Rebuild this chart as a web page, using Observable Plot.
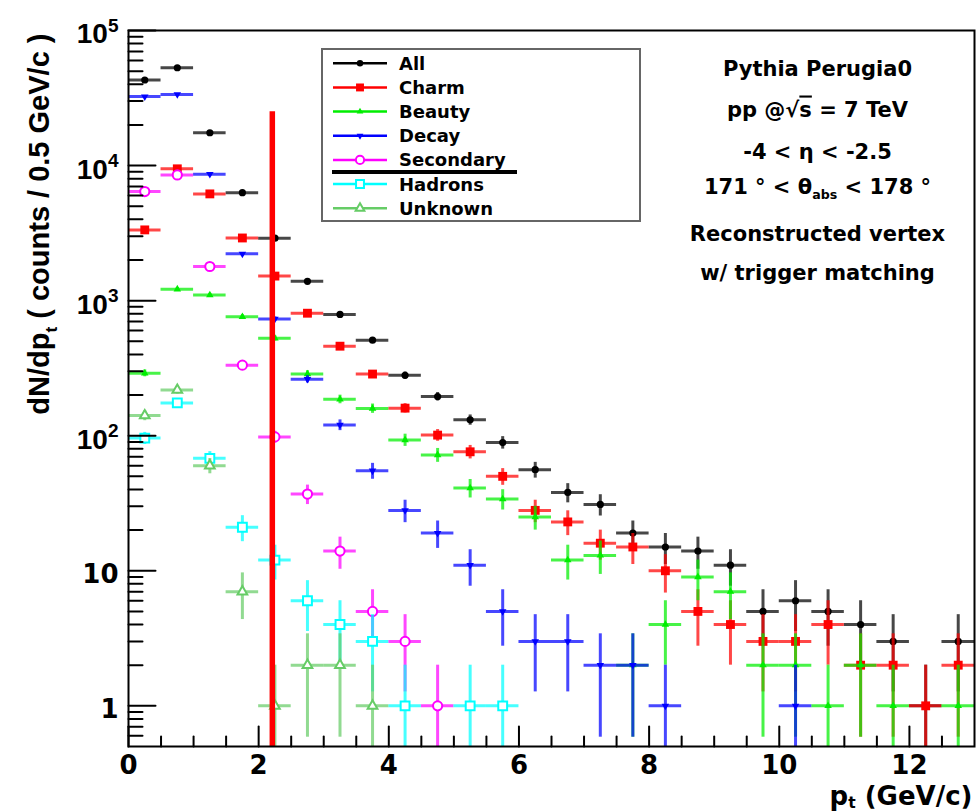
<!DOCTYPE html>
<html>
<head>
<meta charset="utf-8">
<script src="https://cdn.jsdelivr.net/npm/d3@7"></script>
<script src="https://cdn.jsdelivr.net/npm/@observablehq/plot@0.6"></script>
<style>
  body { margin: 0; background: #fff; }
  svg { display: block; }
</style>
</head>
<body>
<div id="chart"></div>
<script>
// ---------- data ----------
const binCenters = [0.25, 0.75, 1.25, 1.75, 2.25, 2.75, 3.25, 3.75, 4.25, 4.75, 5.25, 5.75, 6.25,
                    6.75, 7.25, 7.75, 8.25, 8.75, 9.25, 9.75, 10.25, 10.75, 11.25, 11.75, 12.25, 12.75];
const binHalfWidth = 0.25;
const seriesNames = ["All", "Charm", "Beauty", "Decay", "Secondary", "Hadrons", "Unknown"];

const allCounts       = [43000, 53000, 17500, 6300, 2900, 1390, 790, 510, 280, 195, 131, 89, 56, 38, 31, 19, 15, 14, 11, 5, 6, 5, 4, 3, 1, 3];
const charmCounts     = [3340, 9460, 6170, 2910, 1520, 807, 460, 286, 160, 101, 76, 50, 28, 23, 16, 15, 10, 5, 4, 3, 3, 4, 2, 2, 1, 2];
const beautyCounts    = [290, 1215, 1100, 760, 526, 286, 186, 159, 93, 72, 41, 34, 25, 12, 13, 2, 4, 9, 7, 2, 2, 1, 2, 1, null, 1];
const decayCounts     = [32400, 33600, 8630, 2220, 731, 262, 120, 55, 28, 19, 11, 5, 3, 3, 2, 2, 1, null, null, null, 1, null, null, null, null, null];
const secondaryCounts = [6420, 8520, 1790, 333, 98, 37, 14, 5, 3, 1, null, null, null, null, null, null, null, null, null, null, null, null, null, null, null, null];
const hadronCounts    = [96, 175, 68, 21, 12, 6, 4, 3, 1, null, 1, 1, null, null, null, null, null, null, null, null, null, null, null, null, null, null];
const unknownCounts   = [141, 218, 60, 7, 1, 2, 2, 1, null, null, null, null, null, null, null, null, null, null, null, null, null, null, null, null, null, null];

const cutPt = 2.21;        // red vertical cut line (GeV/c)
const cutTop = 25000;      // its top, in counts

const xTicks = [0, 2, 4, 6, 8, 10, 12];
const yTicks = [1, 10, 100, 1000, 10000, 100000];
const yTickLabels = ["1", "10", "10^{2}", "10^{3}", "10^{4}", "10^{5}"];

const infoLines = ["Pythia Perugia0", "pp @√‾{s} = 7 TeV", "-4 < η < -2.5",
                   "171 ° < θ_{abs} < 178 °", "Reconstructed vertex", "w/ trigger matching"];
const xTitle = "p_{t} (GeV/c)";
const yTitle = "dN/dp_{t} ( counts / 0.5 GeV/c )";

// ---------- styles ----------
const sqrt3 = Math.sqrt(3);
const invTriangle = {
  draw(context, size) {
    const y = -Math.sqrt(size / (sqrt3 * 3));
    context.moveTo(0, -y * 2);
    context.lineTo(-sqrt3 * y, y);
    context.lineTo(sqrt3 * y, y);
    context.closePath();
  }
};
const seriesStyle = {
  All:       {color: "#000000", symbol: d3.symbolCircle,   r: 3.6, open: false},
  Charm:     {color: "#ff0000", symbol: d3.symbolSquare,   r: 5.0, open: false},
  Beauty:    {color: "#00ee00", symbol: d3.symbolTriangle, r: 2.8, open: false},
  Decay:     {color: "#0000ff", symbol: invTriangle,       r: 2.8, open: false},
  Secondary: {color: "#ff00ff", symbol: d3.symbolCircle,   r: 4.6, open: true},
  Hadrons:   {color: "#00ffff", symbol: d3.symbolSquare,   r: 5.0, open: true},
  Unknown:   {color: "#66cc66", symbol: d3.symbolTriangle, r: 3.6, open: true}
};
const seriesCounts = [allCounts, charmCounts, beautyCounts, decayCounts, secondaryCounts, hadronCounts, unknownCounts];

const rows = [];
seriesNames.forEach((name, si) => {
  seriesCounts[si].forEach((v, i) => {
    if (v != null) rows.push({series: name, x: binCenters[i], y: v});
  });
});

// tick positions
const xMinorTicks = [];
for (let v = 0.5; v < 13; v += 0.5) if (v % 2 !== 0) xMinorTicks.push(v);
const yMinorTicks = [0.6, 0.7, 0.8, 0.9];
for (let k = 0; k < 5; k++) for (let m = 2; m <= 9; m++) yMinorTicks.push(m * Math.pow(10, k));

const yMin = 0.5;
const tickShape = {draw(context, l) { context.moveTo(0, 0); context.lineTo(0, -l); }};

const seriesMarks = seriesNames.flatMap(name => {
  const s = seriesStyle[name];
  const data = rows.filter(d => d.series === name);
  return [
    Plot.ruleX(data, {x: "x", y1: d => Math.max(yMin, d.y - Math.sqrt(d.y)), y2: d => d.y + Math.sqrt(d.y),
                      stroke: s.color, strokeWidth: 3, strokeOpacity: 0.72, clip: true}),
    Plot.ruleY(data, {y: "y", x1: d => d.x - binHalfWidth, x2: d => d.x + binHalfWidth,
                      stroke: s.color, strokeWidth: 3, strokeOpacity: 0.72, clip: true}),
    Plot.dot(data, {x: "x", y: "y", symbol: () => s.symbol, r: s.r,
                    fill: s.open ? "white" : s.color, stroke: s.open ? s.color : "none",
                    strokeWidth: s.open ? 2 : 0, clip: true})
  ];
});

const note = (text, dx, dy, o = {}) => Plot.text([text], {frameAnchor: "top-left", dx, dy, text: d => d, lineAnchor: "bottom", ...o});
const infoBaselines = [45, 86, 128, 163, 210, 249];

const chart = Plot.plot({
  width: 979,
  height: 812,
  marginTop: 30,
  marginLeft: 128,
  marginRight: 5,
  marginBottom: 66,
  style: {fontFamily: "'Liberation Sans', Arial, sans-serif", fontWeight: "bold", background: "white", color: "black"},
  x: {domain: [0, 13]},
  y: {type: "log", domain: [yMin, 1e5]},
  marks: [
    ...seriesMarks,
    Plot.ruleX([cutPt], {x: d => d, y1: yMin, y2: cutTop, stroke: "#ff0000", strokeWidth: 5.5}),
    Plot.vector(yTicks, {y: d => d, frameAnchor: "left", length: 27, rotate: 90, anchor: "start", shape: tickShape, stroke: "black", strokeWidth: 2}),
    Plot.vector(yMinorTicks, {y: d => d, frameAnchor: "left", length: 14, rotate: 90, anchor: "start", shape: tickShape, stroke: "black", strokeWidth: 2}),
    Plot.vector(xTicks, {x: d => d, frameAnchor: "bottom", length: 20, rotate: 0, anchor: "start", shape: tickShape, stroke: "black", strokeWidth: 2}),
    Plot.vector(xMinorTicks, {x: d => d, frameAnchor: "bottom", length: 10, rotate: 0, anchor: "start", shape: tickShape, stroke: "black", strokeWidth: 2}),
    Plot.axisX({ticks: xTicks, tickSize: 0, tickPadding: 9, label: null, fontSize: 26, fontFamily: "'DejaVu Sans', sans-serif", fontWeight: "bold"}),
    Plot.axisY({ticks: yTicks, tickSize: 0, tickPadding: 10, label: null, dy: 4, fontSize: 28, fontWeight: "bold",
                tickFormat: d => yTickLabels[yTicks.indexOf(d)]}),
    Plot.frame({stroke: "black", strokeWidth: 2}),
    ...infoLines.map((t, i) => note(t, 689, infoBaselines[i], {fontSize: 21, fontFamily: "'DejaVu Sans', sans-serif", textAnchor: "middle"})),
    note(xTitle, 844, 774, {fontSize: 26, fontFamily: "'DejaVu Sans', sans-serif", textAnchor: "end"}),
    note(yTitle, -80, 3, {fontSize: 29, rotate: -90, textAnchor: "end"})
  ]
});

document.getElementById("chart").append(chart);

// rich text: _{sub}, ^{sup}, ‾{overline}
function richText(el, subShift = 0.28) {
  const s = el.textContent;
  if (!/[_^‾]\{/.test(s)) return;
  const base = parseFloat(getComputedStyle(el).fontSize) || 20;
  const parts = s.split(/([_^‾]\{[^}]*\})/).filter(p => p !== "");
  el.textContent = "";
  let shift = 0;
  for (const p of parts) {
    const t = document.createElementNS("http://www.w3.org/2000/svg", "tspan");
    let target = 0, txt = p, size = null, deco = null;
    if (p.length > 2 && p[1] === "{" && "_^‾".includes(p[0])) {
      txt = p.slice(2, -1);
      if (p[0] === "_") { target = subShift * base; size = 0.6 * base; }
      else if (p[0] === "^") { target = -0.42 * base; size = 0.68 * base; }
      else { deco = "overline"; }
    }
    if (target !== shift) t.setAttribute("dy", target - shift);
    shift = target;
    if (size) t.setAttribute("font-size", size);
    if (deco) t.setAttribute("text-decoration", deco);
    t.textContent = txt;
    el.appendChild(t);
  }
}
d3.select(chart).selectAll('g[aria-label="y-axis tick label"] text').each(function () {
  if (!this.textContent.includes("^")) {
    this.setAttribute("font-family", "'DejaVu Sans', sans-serif");
    this.setAttribute("font-size", 26);
  }
});
chart.querySelectorAll("text").forEach(el => richText(el, el.textContent === xTitle ? 0.14 : 0.28));

// legend
const svg = d3.select(chart);
const lg = svg.append("g").attr("font-family", "'DejaVu Sans', sans-serif").attr("font-weight", "bold")
  .attr("font-size", 18).attr("text-anchor", "start");
lg.append("rect").attr("x", 322).attr("y", 49).attr("width", 318).attr("height", 172)
  .attr("fill", "white").attr("stroke", "#666").attr("stroke-width", 2);
seriesNames.forEach((name, i) => {
  const s = seriesStyle[name];
  const cy = 63.3 + i * 24.15;
  lg.append("line").attr("x1", 333).attr("x2", 387).attr("y1", cy).attr("y2", cy)
    .attr("stroke", s.color).attr("stroke-width", 2.5);
  lg.append("path").attr("transform", `translate(360,${cy})`)
    .attr("d", d3.symbol(s.symbol, Math.PI * s.r * s.r * 0.8)())
    .attr("fill", s.open ? "white" : s.color).attr("stroke", s.open ? s.color : "none").attr("stroke-width", 2);
  lg.append("text").attr("x", 399).attr("y", cy + 6.5).attr("fill", "black").attr("text-anchor", "start").text(name);
});
lg.append("line").attr("x1", 332).attr("x2", 517).attr("y1", 172).attr("y2", 172)
  .attr("stroke", "black").attr("stroke-width", 4);
</script>
</body>
</html>
